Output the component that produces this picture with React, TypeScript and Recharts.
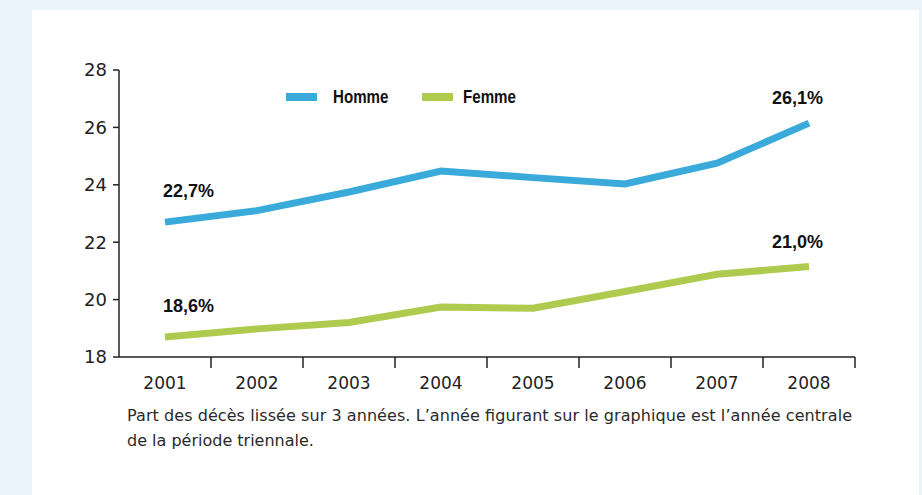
import { LineChart, Line, XAxis, YAxis, LabelList } from "recharts";

// Data
const years = ["2001", "2002", "2003", "2004", "2005", "2006", "2007", "2008"];
const homme = [22.7, 23.1, 23.75, 24.48, 24.25, 24.03, 24.75, 26.15];
const femme = [18.7, 18.98, 19.2, 19.74, 19.7, 20.28, 20.88, 21.15];
const hommeLabels = ["22,7%", "", "", "", "", "", "", "26,1%"];
const femmeLabels = ["18,6%", "", "", "", "", "", "", "21,0%"];
const yTicks = [18, 20, 22, 24, 26, 28];
const seriesNames = ["Homme", "Femme"];
const seriesColors = ["#3AAADB", "#AECB50"];
const captionLines = [
    "Part des décès lissée sur 3 années. L’année figurant sur le graphique est l’année centrale",
    "de la période triennale.",
];

const data = years.map((year, i) => ({ year, homme: homme[i], femme: femme[i] }));

const W = 922;
const H = 495;
const PLOT_LEFT = 119;
const PLOT_RIGHT = 67;
const HALF_BAND = (W - PLOT_LEFT - PLOT_RIGHT) / years.length / 2;
const AXIS_COLOR = "#222";
const TICK_FONT = "'DejaVu Sans', sans-serif";
const LABEL_FONT = "'Liberation Sans', Arial, sans-serif";
const LEGEND_LEFT = [286, 422];
const LEGEND_GAP = [16, 10];

const XTick = (props: any) => {
    const { x, y, payload } = props;
    return (
        <g>
            <line x1={x + HALF_BAND} x2={x + HALF_BAND} y1={y} y2={y + 11} stroke={AXIS_COLOR} strokeWidth={1.5} />
            <text x={x} y={y + 32} textAnchor="middle" fontSize={17} fontFamily={TICK_FONT} fill="#222">
                {payload.value}
            </text>
        </g>
    );
};

const endLabel = (labels: string[]) => (props: any) => {
    const { x, y, index } = props;
    const text = labels[index];
    if (!text) return null;
    const first = index === 0;
    return (
        <text
            x={first ? x - 2 : x + 14}
            y={y - (first ? 25 : 19)}
            textAnchor={first ? "start" : "end"}
            fontSize={18}
            fontWeight="bold"
            fontFamily={LABEL_FONT}
            fill="#111"
        >
            {text}
        </text>
    );
};

export default function App() {
    return (
        <div style={{ position: "absolute", left: 0, top: 0, width: W, height: H, background: "#EAF2FA", overflow: "hidden" }}>
            {/* white panel */}
            <div style={{ position: "absolute", left: 32, top: 10, width: 887, height: 485, background: "#fff" }} />

            <div style={{ position: "absolute", left: 0, top: 0 }}>
                <LineChart width={W} height={H} data={data} margin={{ top: 70, right: PLOT_RIGHT, bottom: 108, left: 0 }}>
                    <XAxis
                        dataKey="year"
                        height={30}
                        padding={{ left: HALF_BAND, right: HALF_BAND }}
                        axisLine={{ stroke: AXIS_COLOR, strokeWidth: 1.5 }}
                        tickLine={false}
                        tickSize={0}
                        tickMargin={0}
                        interval={0}
                        tick={<XTick />}
                    />
                    <YAxis
                        width={PLOT_LEFT}
                        domain={[18, 28]}
                        ticks={yTicks}
                        interval={0}
                        axisLine={{ stroke: AXIS_COLOR, strokeWidth: 1.5 }}
                        tickLine={{ stroke: AXIS_COLOR, strokeWidth: 1.5 }}
                        tickSize={6}
                        tickMargin={6}
                        tick={{ fill: "#222", fontSize: 18, fontFamily: TICK_FONT }}
                    />
                    <Line
                        type="linear"
                        dataKey="homme"
                        name={seriesNames[0]}
                        stroke={seriesColors[0]}
                        strokeWidth={7}
                        dot={false}
                        activeDot={false}
                        isAnimationActive={false}
                    >
                        <LabelList dataKey="homme" content={endLabel(hommeLabels)} />
                    </Line>
                    <Line
                        type="linear"
                        dataKey="femme"
                        name={seriesNames[1]}
                        stroke={seriesColors[1]}
                        strokeWidth={7}
                        dot={false}
                        activeDot={false}
                        isAnimationActive={false}
                    >
                        <LabelList dataKey="femme" content={endLabel(femmeLabels)} />
                    </Line>
                </LineChart>
            </div>

            {/* legend */}
            {seriesNames.map((name, i) => (
                <div
                    key={name}
                    style={{ position: "absolute", left: LEGEND_LEFT[i], top: 86, display: "flex", alignItems: "center", height: 22 }}
                >
                    <div style={{ width: 31, height: 8, background: seriesColors[i], marginRight: LEGEND_GAP[i] }} />
                    <span
                        style={{
                            display: "inline-block",
                            fontFamily: LABEL_FONT,
                            fontWeight: "bold",
                            fontSize: 18,
                            color: "#111",
                            lineHeight: "22px",
                            transform: "scaleX(0.84)",
                            transformOrigin: "left center",
                        }}
                    >
                        {name}
                    </span>
                </div>
            ))}

            {/* caption */}
            <svg style={{ position: "absolute", left: 0, top: 0 }} width={W} height={H}>
                <text x={127} y={421} fontSize={16} fontFamily={TICK_FONT} fill="#2a2a2a" textLength={725} lengthAdjust="spacing">
                    {captionLines[0]}
                </text>
                <text x={127} y={446} fontSize={16} fontFamily={TICK_FONT} fill="#2a2a2a">
                    {captionLines[1]}
                </text>
            </svg>
        </div>
    );
}
